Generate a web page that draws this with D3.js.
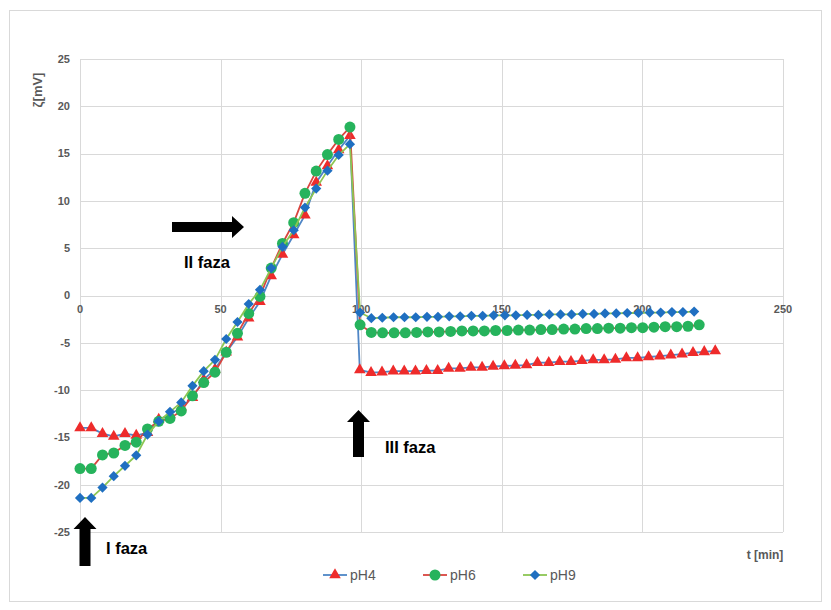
<!DOCTYPE html>
<html>
<head>
<meta charset="utf-8">
<script src="https://cdn.jsdelivr.net/npm/d3@7"></script>
<style>
  body { margin: 0; background: #fff; }
  text { font-family: "Liberation Sans", Arial, sans-serif; }
</style>
</head>
<body>
<div class="vizHolder"></div>
<script>
// time steps of phase I and II (shared by all series)
var timeA = [0, 4, 8, 12, 16, 20, 24, 28, 32, 36, 40, 44, 48, 52, 56, 60, 64, 68, 72, 76, 80, 84, 88, 92, 96];

var pH4A = [-14.0, -14.0, -14.6, -14.9, -14.6, -14.8, -14.5, -13.1, -12.6, -11.8, -10.8, -8.9, -7.8, -6.0, -4.4, -2.4, -0.65, 2.06, 4.35, 6.4, 8.5, 11.95, 13.7, 15.4, 16.9];
var pH6A = [-18.3, -18.3, -16.85, -16.65, -15.85, -15.5, -14.1, -13.3, -13.0, -12.2, -10.6, -9.2, -8.1, -6.0, -4.0, -1.9, -0.1, 2.9, 5.5, 7.7, 10.8, 13.15, 14.9, 16.5, 17.8];
var pH9A = [-21.4, -21.4, -20.3, -19.1, -18.0, -16.9, -14.7, -13.3, -12.3, -11.3, -9.55, -8.0, -6.8, -4.6, -2.8, -0.9, 0.6, 2.9, 5.15, 6.9, 9.3, 11.3, 13.2, 14.85, 16.0];

// phase III, each series has its own time stamps
var pH4TimeB = [99.5, 103.5, 107.4, 111.4, 115.3, 119.3, 123.2, 127.2, 131.1, 135.1, 139.0, 143.0, 146.9, 150.9, 154.8, 158.8, 162.7, 166.7, 170.6, 174.6, 178.5, 182.5, 186.4, 190.4, 194.3, 198.3, 202.2, 206.2, 210.1, 214.1, 218.0, 222.0, 225.9];
var pH4B = [-7.87, -8.15, -8.1, -8.0, -8.0, -8.0, -7.95, -7.95, -7.7, -7.7, -7.6, -7.6, -7.5, -7.45, -7.4, -7.35, -7.1, -7.1, -7.0, -7.0, -6.9, -6.8, -6.8, -6.75, -6.6, -6.6, -6.5, -6.4, -6.3, -6.2, -6.05, -5.95, -5.85];

var pH6TimeB = [99.6, 103.6, 107.6, 111.7, 115.7, 119.7, 123.7, 127.7, 131.8, 135.8, 139.8, 143.8, 147.8, 151.9, 155.9, 159.9, 163.9, 167.9, 172.0, 176.0, 180.0, 184.0, 188.0, 192.1, 196.1, 200.1, 204.1, 208.1, 212.2, 216.2, 220.2];
var pH6B = [-3.1, -3.9, -3.95, -3.95, -3.95, -3.9, -3.85, -3.85, -3.8, -3.75, -3.75, -3.75, -3.7, -3.7, -3.65, -3.65, -3.6, -3.6, -3.55, -3.55, -3.5, -3.5, -3.45, -3.45, -3.4, -3.4, -3.35, -3.3, -3.3, -3.25, -3.1];

var pH9TimeB = [99.6, 103.6, 107.5, 111.5, 115.4, 119.4, 123.4, 127.3, 131.3, 135.2, 139.2, 143.2, 147.1, 151.1, 155.0, 159.0, 163.0, 166.9, 170.9, 174.8, 178.8, 182.8, 186.7, 190.7, 194.6, 198.6, 202.6, 206.5, 210.5, 214.4, 218.4];
var pH9B = [-1.8, -2.4, -2.35, -2.3, -2.3, -2.3, -2.25, -2.25, -2.2, -2.2, -2.15, -2.15, -2.1, -2.1, -2.1, -2.05, -2.05, -2.0, -2.0, -2.0, -1.95, -1.95, -1.9, -1.9, -1.85, -1.85, -1.8, -1.8, -1.75, -1.75, -1.7];

var xTicks = [0, 50, 100, 150, 200, 250];
var yTicks = [-25, -20, -15, -10, -5, 0, 5, 10, 15, 20, 25];

var series = [
  {name: "pH4", t: timeA.concat(pH4TimeB), v: pH4A.concat(pH4B), line: "#4f86c6", fill: "#ee2b2b", shape: "triangle"},
  {name: "pH6", t: timeA.concat(pH6TimeB), v: pH6A.concat(pH6B), line: "#d9453f", fill: "#26b35c", shape: "circle"},
  {name: "pH9", t: timeA.concat(pH9TimeB), v: pH9A.concat(pH9B), line: "#8cc653", fill: "#1f6fc1", shape: "diamond"}
];

var margin = {top: 59, left: 80},
    width = 703,
    height = 473;

var xScale = d3.scaleLinear().domain([0, 250]).range([0, width]);
var yScale = d3.scaleLinear().domain([-25, 25]).range([height, 0]);

var symbols = {
  triangle: d3.symbol().type(d3.symbolTriangle).size(58),
  circle: d3.symbol().type(d3.symbolCircle).size(95),
  diamond: d3.symbol().type(d3.symbolSquare).size(52)
};

var svg = d3.select(".vizHolder")
            .append("svg")
            .attr("width", 831)
            .attr("height", 610);

// outer frame
svg.append("rect")
   .attr("x", 9.5).attr("y", 10.5)
   .attr("width", 812).attr("height", 591)
   .attr("fill", "none")
   .attr("stroke", "#d9d9d9");

var g = svg.append("g")
           .attr("transform", "translate(" + margin.left + "," + margin.top + ")");

// grid
g.selectAll(".hgrid")
 .data(yTicks)
 .enter().append("line")
 .attr("x1", 0).attr("x2", width)
 .attr("y1", function(d) { return Math.round(yScale(d)) + 0.5; })
 .attr("y2", function(d) { return Math.round(yScale(d)) + 0.5; })
 .attr("stroke", "#d9d9d9");

g.selectAll(".vgrid")
 .data(xTicks)
 .enter().append("line")
 .attr("y1", 0).attr("y2", height)
 .attr("x1", function(d) { return Math.round(xScale(d)) + 0.5; })
 .attr("x2", function(d) { return Math.round(xScale(d)) + 0.5; })
 .attr("stroke", "#d9d9d9");

// y tick labels
g.selectAll(".ylab")
 .data(yTicks)
 .enter().append("text")
 .attr("x", -10)
 .attr("y", function(d) { return yScale(d); })
 .attr("dy", "0.35em")
 .attr("text-anchor", "end")
 .attr("font-size", 11)
 .attr("font-weight", "bold")
 .attr("fill", "#595959")
 .text(function(d) { return d; });

// x tick labels sit under the zero line
g.selectAll(".xlab")
 .data(xTicks)
 .enter().append("text")
 .attr("x", function(d) { return xScale(d); })
 .attr("y", yScale(0) + 17)
 .attr("text-anchor", "middle")
 .attr("font-size", 11)
 .attr("font-weight", "bold")
 .attr("fill", "#595959")
 .text(function(d) { return d; });

// axis titles
svg.append("text")
   .attr("transform", "translate(42,90) rotate(-90)")
   .attr("text-anchor", "middle")
   .attr("font-size", 13)
   .attr("font-weight", "bold")
   .attr("fill", "#595959")
   .text("ζ[mV]");

svg.append("text")
   .attr("x", 765)
   .attr("y", 559)
   .attr("text-anchor", "middle")
   .attr("font-size", 12)
   .attr("font-weight", "bold")
   .attr("fill", "#595959")
   .text("t [min]");

// series
var line = d3.line()
             .x(function(d) { return xScale(d[0]); })
             .y(function(d) { return yScale(d[1]); });

series.forEach(function(s) {
  var pts = d3.zip(s.t, s.v);
  g.append("path")
   .datum(pts)
   .attr("d", line)
   .attr("fill", "none")
   .attr("stroke", s.line)
   .attr("stroke-width", 1.8);

  g.selectAll(".m-" + s.name)
   .data(pts)
   .enter().append("path")
   .attr("d", symbols[s.shape])
   .attr("transform", function(d) {
     var tr = "translate(" + xScale(d[0]) + "," + yScale(d[1]) + ")";
     return s.shape == "diamond" ? tr + " rotate(45)" : tr;
   })
   .attr("fill", s.fill);
});

// phase arrows
function arrowUp(cx, tipY, baseY) {
  return "M" + cx + "," + tipY + " L" + (cx + 11.5) + "," + (tipY + 12) +
         " L" + (cx + 5.5) + "," + (tipY + 12) + " L" + (cx + 5.5) + "," + baseY +
         " L" + (cx - 5.5) + "," + baseY + " L" + (cx - 5.5) + "," + (tipY + 12) +
         " L" + (cx - 11.5) + "," + (tipY + 12) + "Z";
}
function arrowRight(cy, tipX, startX) {
  return "M" + tipX + "," + cy + " L" + (tipX - 12) + "," + (cy - 11) +
         " L" + (tipX - 12) + "," + (cy - 5) + " L" + startX + "," + (cy - 5) +
         " L" + startX + "," + (cy + 5) + " L" + (tipX - 12) + "," + (cy + 5) +
         " L" + (tipX - 12) + "," + (cy + 11) + "Z";
}

svg.append("path").attr("d", arrowUp(85, 517, 566)).attr("fill", "#000");
svg.append("path").attr("d", arrowRight(227, 244, 172)).attr("fill", "#000");
svg.append("path").attr("d", arrowUp(358.5, 410, 457)).attr("fill", "#000");

var notes = [["I faza", 106, 554], ["II faza", 184, 268], ["III faza", 385, 453]];
svg.selectAll(".note")
   .data(notes)
   .enter().append("text")
   .attr("x", function(d) { return d[1]; })
   .attr("y", function(d) { return d[2]; })
   .attr("font-size", 16.5)
   .attr("font-weight", "bold")
   .attr("fill", "#000")
   .text(function(d) { return d[0]; });

// legend
var legend = svg.selectAll(".legend")
                .data(series)
                .enter().append("g")
                .attr("transform", function(d, i) { return "translate(" + (335 + i * 100) + ",575)"; });

legend.append("line")
      .attr("x1", -12).attr("x2", 12)
      .attr("stroke", function(d) { return d.line; })
      .attr("stroke-width", 1.8);

legend.append("path")
      .attr("d", function(d) { return symbols[d.shape](); })
      .attr("transform", function(d) { return d.shape == "diamond" ? "rotate(45)" : null; })
      .attr("fill", function(d) { return d.fill; });

legend.append("text")
      .attr("x", 15)
      .attr("dy", "0.35em")
      .attr("font-size", 14)
      .attr("fill", "#595959")
      .text(function(d) { return d.name; });
</script>
</body>
</html>
